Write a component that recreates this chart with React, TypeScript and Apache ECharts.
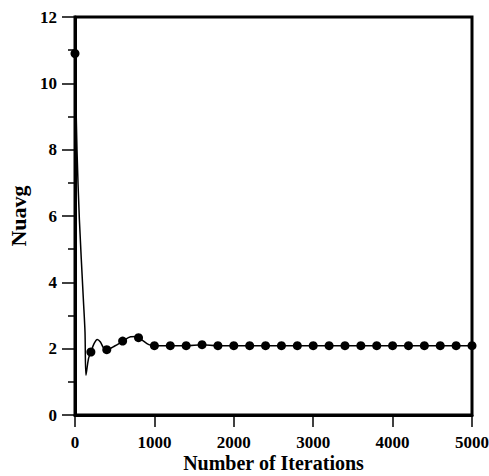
import React, { useEffect, useRef } from "react";
import * as echarts from "echarts";

const xTicks = [0, 1000, 2000, 3000, 4000, 5000];
const yTicks = [0, 2, 4, 6, 8, 10, 12];

// Continuous convergence curve
const curveX = [0, 25, 55, 105, 126, 138, 170, 200, 240, 280, 320, 360, 400, 500, 600, 700, 780, 850, 930, 1000, 1200, 1400, 1600, 1800, 2000, 3000, 4000, 5000];
const curveY = [10.9, 8.0, 5.9, 3.5, 2.5, 1.2, 1.7, 1.9, 2.15, 2.28, 2.2, 2.02, 1.97, 2.08, 2.22, 2.36, 2.37, 2.25, 2.12, 2.09, 2.09, 2.09, 2.12, 2.09, 2.09, 2.09, 2.09, 2.09];

// Marker samples
const markerX = [0, 200, 400, 600, 800, 1000, 1200, 1400, 1600, 1800, 2000, 2200, 2400, 2600, 2800, 3000, 3200, 3400, 3600, 3800, 4000, 4200, 4400, 4600, 4800, 5000];
const markerY = [10.9, 1.9, 1.97, 2.23, 2.33, 2.09, 2.09, 2.09, 2.12, 2.09, 2.09, 2.09, 2.09, 2.09, 2.09, 2.09, 2.09, 2.09, 2.09, 2.09, 2.09, 2.09, 2.09, 2.09, 2.09, 2.09];

const FONT = "Liberation Serif";

export default function App() {
  const ref = useRef<HTMLDivElement>(null);
  useEffect(() => {
    if (!ref.current) return;
    const chart = echarts.init(ref.current, null, { renderer: "svg" });
    chart.setOption({
      animation: false,
      backgroundColor: "#fff",
      grid: {
        left: 75,
        right: 17,
        top: 17,
        bottom: 61,
        containLabel: false,
        outerBoundsMode: "none",
        show: true,
        borderColor: "#000",
        borderWidth: 3,
        backgroundColor: "transparent",
      },
      xAxis: {
        type: "value",
        min: xTicks[0],
        max: xTicks[xTicks.length - 1],
        interval: 1000,
        name: "Number of Iterations",
        nameLocation: "middle",
        nameMoveOverlap: false,
        nameGap: 38,
        nameTextStyle: { fontFamily: FONT, fontWeight: "bold", fontSize: 20, color: "#000" },
        axisLine: { show: true, lineStyle: { color: "#000", width: 3 } },
        axisTick: { show: true, inside: false, length: 12, lineStyle: { color: "#000", width: 1.5 } },
        axisLabel: {
          fontFamily: FONT,
          fontWeight: "bold",
          fontSize: 17,
          color: "#000",
          margin: 19,
          formatter: (v: number) => String(v),
        },
        splitLine: { show: false },
      },
      yAxis: {
        type: "value",
        min: yTicks[0],
        max: yTicks[yTicks.length - 1],
        interval: 2,
        name: "Nuavg",
        nameLocation: "middle",
        nameMoveOverlap: false,
        nameGap: 46,
        nameRotate: 90,
        nameTextStyle: { fontFamily: FONT, fontWeight: "bold", fontSize: 22, color: "#000" },
        axisLine: { show: true, lineStyle: { color: "#000", width: 3 } },
        axisTick: { show: true, inside: false, length: 13, lineStyle: { color: "#000", width: 1.5 } },
        minorTick: { show: true, splitNumber: 2, length: 7, lineStyle: { color: "#000", width: 1.5 } },
        axisLabel: {
          fontFamily: FONT,
          fontWeight: "bold",
          fontSize: 17,
          color: "#000",
          margin: 18,
          formatter: (v: number) => String(v),
        },
        splitLine: { show: false },
      },
      series: [
        {
          type: "line",
          data: curveX.map((x, i) => [x, curveY[i]]),
          smooth: 0.3,
          showSymbol: false,
          symbol: "none",
          lineStyle: { color: "#000", width: 1.5 },
          clip: false,
          z: 2,
        },
        {
          type: "scatter",
          data: markerX.map((x, i) => [x, markerY[i]]),
          symbol: "circle",
          symbolSize: 9,
          itemStyle: { color: "#000", opacity: 1 },
          clip: false,
          z: 3,
        },
      ],
    });
    return () => chart.dispose();
  }, []);
  return <div ref={ref} style={{ width: 489, height: 476, position: "absolute", left: 0, top: 0 }} />;
}
